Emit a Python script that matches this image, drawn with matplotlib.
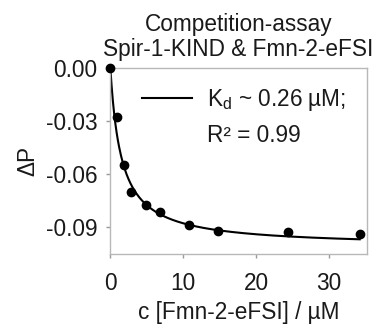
import numpy as np
import matplotlib
matplotlib.use("Agg")
import matplotlib.pyplot as plt
from matplotlib.lines import Line2D

plt.rcParams['font.family'] = ['Liberation Sans', 'DejaVu Sans']
plt.rcParams['mathtext.fontset'] = 'custom'
plt.rcParams['mathtext.rm'] = 'Liberation Sans'
plt.rcParams['mathtext.it'] = 'Liberation Sans:italic'

# data
conc = [0.0, 0.92, 1.92, 2.88, 4.88, 6.85, 10.8, 14.7, 24.4, 34.2]
delta_p = [0.0, -0.0277, -0.0549, -0.0700, -0.0775, -0.0815, -0.0889, -0.0919, -0.0928, -0.0937]

# fit curve parameters (hyperbolic binding)
fit_amp = -0.101
fit_k = 1.52

title = "Competition-assay\nSpir-1-KIND & Fmn-2-eFSI"
xlabel = "c [Fmn-2-eFSI] / µM"
ylabel = "ΔP"
label_fit = r"K$_\mathregular{d}$ ~ 0.26 µM;"
label_r2 = "R² = 0.99"
xticks = [0, 10, 20, 30]
yticks = [0.0, -0.03, -0.06, -0.09]

FS = 16.3
TXT = '#1a1a1a'

fig = plt.figure(figsize=(3.78, 3.29), dpi=100)
ax = fig.add_axes([110/378, 1-254/329, (367-110)/378, (254-68)/329])

xf = np.linspace(0, max(conc), 400)
yf = fit_amp * xf / (fit_k + xf)
ax.plot(xf, yf, color='black', lw=1.5, zorder=2)
ax.scatter(conc, delta_p, s=36, color='black', zorder=3, clip_on=False)

ax.set_xlim(-0.05, 35.2)
ax.set_ylim(-0.105, 0.0)
ax.set_xticks(xticks)
ax.set_yticks(yticks)
ax.set_yticklabels([f"{v:.2f}" for v in yticks])
for s in ax.spines.values():
    s.set_color('#b8b8b8')
    s.set_linewidth(1.0)
ax.tick_params(axis='both', direction='out', length=3, width=1, color='#999999',
               labelsize=FS, pad=6, labelcolor=TXT)
ax.tick_params(axis='x', pad=10)

ax.set_title(title, fontsize=FS, pad=8.5, linespacing=1.12, color=TXT)
ax.set_xlabel(xlabel, fontsize=FS, labelpad=4, color=TXT)
ax.set_ylabel(ylabel, fontsize=FS, labelpad=5, color=TXT)

handles = [Line2D([], [], color='black', lw=1.5),
           Line2D([], [], color='none', lw=0)]
leg = ax.legend(handles, [label_fit, label_r2], loc='upper left',
                bbox_to_anchor=(0.125, 0.9), frameon=False, fontsize=FS,
                handlelength=2.2, handletextpad=0.65, labelspacing=0.5,
                borderaxespad=0, borderpad=0, labelcolor=TXT)

fig.savefig("out.png", dpi=100)
